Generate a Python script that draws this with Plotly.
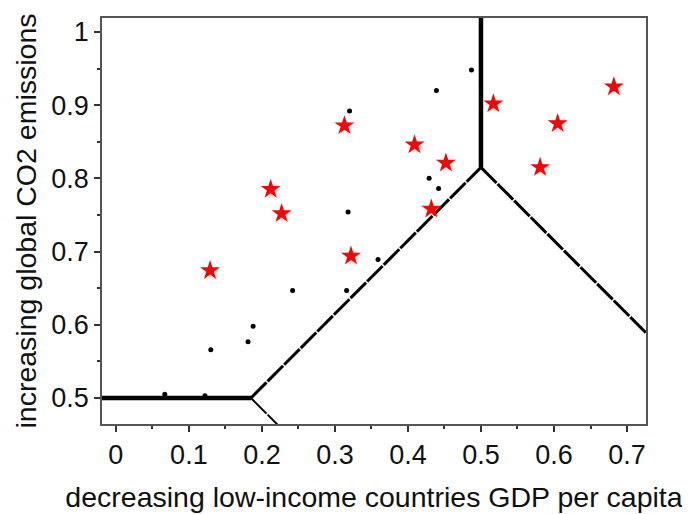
import plotly.graph_objects as go

# black dots
dot_x = [0.067, 0.122, 0.130, 0.181, 0.188, 0.242, 0.316, 0.318, 0.320, 0.359,
         0.429, 0.442, 0.439, 0.487]
dot_y = [0.505, 0.503, 0.566, 0.577, 0.598, 0.647, 0.647, 0.754, 0.892, 0.689,
         0.800, 0.786, 0.920, 0.948]

# red stars
star_x = [0.129, 0.212, 0.227, 0.313, 0.322, 0.409, 0.432, 0.452, 0.517, 0.581,
          0.605, 0.682]
star_y = [0.674, 0.785, 0.752, 0.872, 0.694, 0.846, 0.758, 0.821, 0.902, 0.815,
          0.875, 0.925]

# region boundaries (segments)
horiz_x = [-0.05, 0.185]
horiz_y = [0.5, 0.5]
vert_x = [0.5, 0.5]
vert_y = [0.815, 1.1]
diag_left_x = [0.185, 0.5]
diag_left_y = [0.5, 0.815]
diag_right_x = [0.5, 0.78]
diag_right_y = [0.815, 0.535]
diag_low_x = [0.185, 0.25]
diag_low_y = [0.5, 0.435]

FONT = "Liberation Sans, Arial, sans-serif"

fig = go.Figure()

# thick boundaries
fig.add_trace(go.Scatter(x=horiz_x, y=horiz_y, mode="lines",
                         line=dict(color="black", width=4.5), hoverinfo="skip"))
fig.add_trace(go.Scatter(x=vert_x, y=vert_y, mode="lines",
                         line=dict(color="black", width=4.5), hoverinfo="skip"))
# thinner, broken-looking boundaries
for bx, by, w in [(diag_left_x, diag_left_y, 3), (diag_right_x, diag_right_y, 3),
                  (diag_low_x, diag_low_y, 2)]:
    fig.add_trace(go.Scatter(x=bx, y=by, mode="lines",
                             line=dict(color="black", width=w, dash="22px,1.5px"),
                             hoverinfo="skip"))

fig.add_trace(go.Scatter(x=dot_x, y=dot_y, mode="markers",
                         marker=dict(color="black", size=5)))
fig.add_trace(go.Scatter(x=star_x, y=star_y, mode="markers",
                         marker=dict(color="red", size=15, symbol="star",
                                     line=dict(width=0))))

axis_common = dict(
    showgrid=False, zeroline=False,
    showline=True, mirror=True, linecolor="#555", linewidth=1.5,
    ticks="outside", ticklen=6, tickwidth=1.5, tickcolor="#333",
    tickfont=dict(family=FONT, size=27, color="#111"),
    minor=dict(ticks="outside", ticklen=3, tickwidth=1.5, tickcolor="#333", showgrid=False),
)

# page body adds an 8px offset, so the figure is shrunk to fit the window
fig.update_layout(
    width=682, height=506,
    margin=dict(l=94, r=44, t=10, b=90),
    paper_bgcolor="white", plot_bgcolor="white",
    showlegend=False,
    font=dict(family=FONT, color="#111"),
    xaxis=dict(range=[-0.019, 0.726], dtick=0.1, tick0=0,
               title=dict(text="decreasing low-income countries GDP per capita",
                          font=dict(family=FONT, size=28.5, color="#111"), standoff=18),
               **axis_common),
    yaxis=dict(range=[0.4645, 1.019], dtick=0.1, tick0=0,
               title=dict(text="increasing global CO2 emissions",
                          font=dict(family=FONT, size=28.5, color="#111"), standoff=6),
               **axis_common),
)
fig.update_xaxes(minor_dtick=0.05, automargin=False)
fig.update_yaxes(minor_dtick=0.05, automargin=False)

fig.write_html("out.html")
